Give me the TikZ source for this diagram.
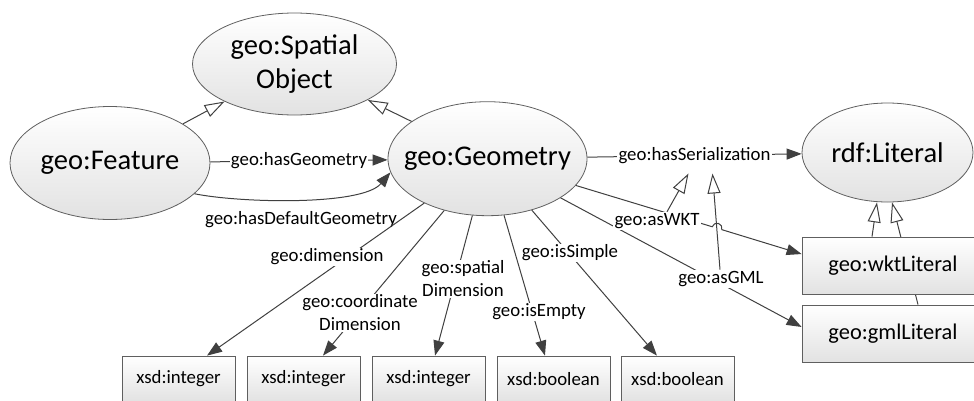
\documentclass[tikz,border=0pt]{standalone}
\usepackage{fontspec}
\setmainfont{Carlito}
\usetikzlibrary{shapes.geometric,arrows.meta,calc,backgrounds}
\definecolor{outl}{HTML}{5F5F5F}
\definecolor{edgec}{HTML}{404040}
\definecolor{shadec}{HTML}{E2E2E2}
\newcommand\clsfont{\fontsize{21.4pt}{26.1pt}\selectfont}
\newcommand\litfont{\fontsize{16.8pt}{20pt}\selectfont}
\newcommand\lblfont{\fontsize{14.1pt}{17.25pt}\selectfont}
\begin{document}
\begin{tikzpicture}[x=0.75pt,y=-0.75pt,
  cls/.style={ellipse, draw=outl, line width=0.6pt, top color=white, bottom color=shadec,
    inner sep=0pt, label={[font=\clsfont, align=center]center:{#1}}},
  lit/.style={rectangle, draw=outl, line width=0.6pt, top color=white, bottom color=shadec,
    inner sep=0pt, font=\litfont},
  xsdbox/.style={lit, minimum width=84.75pt, minimum height=34.5pt, font=\lblfont},
  lbl/.style={font=\lblfont, align=center, inner sep=1pt, fill=white},
  rel/.style={draw=edgec, line width=0.75pt, -{Triangle[length=11.25pt,width=8.25pt]}},
  gen/.style={draw=edgec, line width=0.75pt, -{Triangle[open,length=15pt,width=9.75pt,fill=white]}}]

\useasboundingbox (0,0) rectangle (974,400);
\clip (0,0) rectangle (974,400);

% classes
\node[cls={geo:Spatial\\Object}, minimum width=153pt, minimum height=76.5pt] (so) at (294.5,64) {};
\node[cls={geo:Feature}, minimum width=150pt, minimum height=84.75pt] (feat) at (110,163) {};
\node[cls={geo:Geometry}, minimum width=149.25pt, minimum height=85.5pt] (geo) at (487.5,158.7) {};
\node[cls={rdf:Literal}, minimum width=128.25pt, minimum height=74.25pt] (rdf) at (887.5,152.5) {};

% literal datatypes
\node[lit, minimum width=136.5pt, minimum height=42.75pt] (wkt) at (893,265.5) {geo:wktLiteral};
\node[lit, minimum width=136.5pt, minimum height=42.75pt] (gml) at (893,333.5) {geo:gmlLiteral};

\node[xsdbox] (x1) at (178.5,379) {xsd:integer};
\node[xsdbox] (x2) at (303.5,379) {xsd:integer};
\node[xsdbox] (x3) at (428.5,379) {xsd:integer};
\node[xsdbox] (x4) at (553.5,379) {xsd:boolean};
\node[xsdbox] (x5) at (677.5,379) {xsd:boolean};

% subclass links
\draw[gen] (feat) -- (so);
\draw[gen] (geo) -- (so);
\draw[gen] ([xshift=-15.75pt]wkt.north) -- ([xshift=-7.9pt]rdf.south);
\begin{scope}[on background layer]
  \draw[gen] ([xshift=18.75pt]gml.north) -- ([xshift=3.4pt]rdf.south);
\end{scope}

% properties
\draw[rel] (feat) -- node[lbl] (lhg) {geo:hasGeometry} (geo);
\draw[rel] (feat.-20) .. controls (240,203) and (362,206) .. (geo.188);
\node[font=\lblfont] (ldg) at (301,220) {geo:hasDefaultGeometry};
\draw[rel] (geo) -- node[lbl] (lser) {geo:hasSerialization} (rdf);

\draw[rel] (geo) -- ([xshift=21.4pt]x1.north);
\draw[rel] (geo) -- ([xshift=14.6pt]x2.north);
\draw[rel] (geo) -- ([xshift=4.9pt]x3.north);
\draw[rel] (geo) -- ([xshift=-6.4pt]x4.north);
\draw[rel] (geo) -- ([xshift=-15.4pt]x5.north);

\node[lbl] (ldim) at (327,257) {geo:dimension};
\node[lbl] (lcoord) at (360,313) {geo:coordinate\\Dimension};
\node[lbl] (lspat) at (463,279) {geo:spatial\\Dimension};
\node[lbl] (lempty) at (539,312) {geo:isEmpty};
\node[lbl] (lsimple) at (570,253) {geo:isSimple};

% serialisations, with a hop where asWKT crosses the asGML link
\coordinate (hopc) at (717,228.2);
\draw[rel] (geo) -- ($(hopc)!3.75pt!(geo)$)
  arc[start angle=163.2, end angle=-16.8, radius=3.75pt] -- ([yshift=8.6pt]wkt.west);
\draw[rel] (geo) -- ([yshift=4.9pt]gml.west);
\node[lbl] (lwkt) at (657,221) {geo:asWKT};
\node[lbl] (lgml) at (721,279) {geo:asGML};

% sub-properties of geo:hasSerialization
\draw[gen] ([xshift=7.5pt]lwkt.north) -- ([xshift=-4.5pt,yshift=-6pt]lser.south);
\draw[gen] ([xshift=-0.75pt]lgml.north) -- ([xshift=13.5pt,yshift=-6pt]lser.south);
\end{tikzpicture}
\end{document}
